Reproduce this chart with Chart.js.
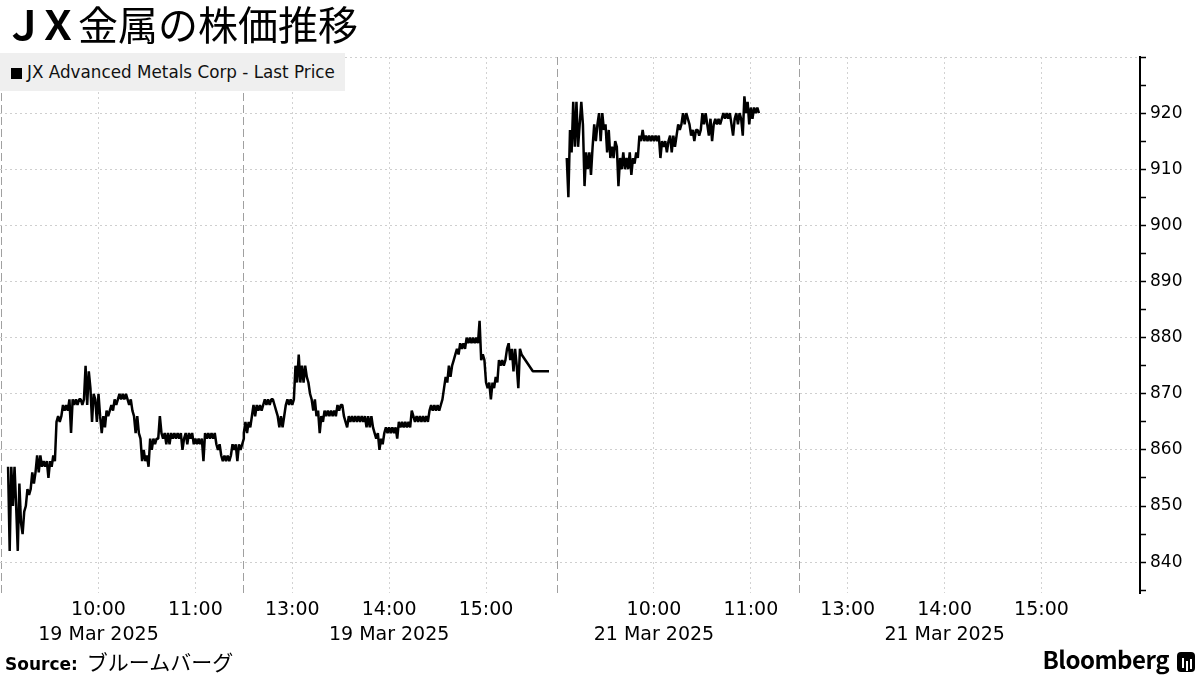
<!DOCTYPE html>
<html>
<head>
<meta charset="utf-8">
<script src="https://cdn.jsdelivr.net/npm/chart.js@4.4.1/dist/chart.umd.min.js"></script>
<style>
  html, body { margin: 0; padding: 0; background: #fff; }
  #wrap { position: relative; width: 1200px; height: 675px; overflow: hidden; }
  #chartBox { position: absolute; left: 0; top: 0; width: 1200px; height: 675px; }
  #title { position: absolute; left: 4px; top: -1px; font-family: 'Noto Sans CJK JP', sans-serif; font-size: 40px; line-height: 48px; color: #000; white-space: nowrap; }
  #title b { font-weight: 700; letter-spacing: -6px; margin-right: 6px; }
  #legend { position: absolute; left: 0; top: 53px; width: 345px; height: 38px; background: #efefef; font-family: 'DejaVu Sans', sans-serif; font-size: 16.8px; line-height: 38px; color: #111; white-space: nowrap; }
  #legend i { display: inline-block; width: 11px; height: 11px; background: #000; margin: 0 5px 0 11px; vertical-align: -1px; }
  #source { position: absolute; left: 5px; top: 647px; line-height: 28px; color: #000; white-space: nowrap; }
  #source b { font-family: 'DejaVu Sans', sans-serif; font-weight: 700; font-size: 17px; }
  #source span { font-family: 'Noto Sans CJK JP', sans-serif; font-size: 21px; margin-left: 9px; }
  #brand { position: absolute; right: 5px; top: 644px; font-family: 'Noto Sans CJK JP', sans-serif; font-weight: 700; font-size: 24px; line-height: 30px; color: #000; white-space: nowrap; letter-spacing: -0.5px; }
  #brand i { display: inline-block; width: 18px; height: 20px; background: #000; border-radius: 4px; margin-left: 8px; vertical-align: -3px; position: relative; }
  #brand i::before { content: ''; position: absolute; left: 5px; top: 6px; width: 2px; height: 10px; background: #fff; box-shadow: 4px 3px 0 #fff, 8px 1px 0 #fff; }
</style>
</head>
<body>
<div id="wrap">
  <div id="chartBox"><canvas id="grafico"></canvas></div>
  <div id="title"><b>ＪＸ</b>金属の株価推移</div>
  <div id="legend"><i></i>JX Advanced Metals Corp - Last Price</div>
  <div id="source"><b>Source:</b><span>ブルームバーグ</span></div>
  <div id="brand">Bloomberg<i></i></div>
</div>
<script>
// Fechas de cada sesión
const dias = ['19 Mar 2025', '21 Mar 2025'];

// 19 Mar: horas y precios (mañana + tarde)
const horasDia1 = [
'09:04','09:05','09:06','09:07','09:08','09:09','09:10','09:11','09:12','09:13',
'09:14','09:15','09:16','09:17','09:18','09:19','09:20','09:21','09:22','09:23',
'09:24','09:25','09:26','09:27','09:28','09:29','09:30','09:31','09:32','09:33',
'09:34','09:35','09:36','09:37','09:38','09:39','09:40','09:41','09:42','09:43',
'09:44','09:45','09:46','09:47','09:48','09:49','09:50','09:51','09:52','09:53',
'09:54','09:55','09:56','09:57','09:58','09:59','10:00','10:01','10:02','10:03',
'10:04','10:05','10:06','10:07','10:08','10:09','10:10','10:11','10:12','10:13',
'10:14','10:15','10:16','10:17','10:18','10:19','10:20','10:21','10:22','10:23',
'10:24','10:25','10:26','10:27','10:28','10:29','10:30','10:31','10:32','10:33',
'10:34','10:35','10:36','10:37','10:38','10:39','10:40','10:41','10:42','10:43',
'10:44','10:45','10:46','10:47','10:48','10:49','10:50','10:51','10:52','10:53',
'10:54','10:55','10:56','10:57','10:58','10:59','11:00','11:01','11:02','11:03',
'11:04','11:05','11:06','11:07','11:08','11:09','11:10','11:11','11:12','11:13',
'11:14','11:15','11:16','11:17','11:18','11:19','11:20','11:21','11:22','11:23',
'11:24','11:25','11:26','11:27','11:28','11:29','11:30',
'12:30','12:31','12:32','12:33','12:34','12:35','12:36','12:37','12:38','12:39',
'12:40','12:41','12:42','12:43','12:44','12:45','12:46','12:47','12:48','12:49',
'12:50','12:51','12:52','12:53','12:54','12:55','12:56','12:57','12:58','12:59',
'13:00','13:01','13:02','13:03','13:04','13:05','13:06','13:07','13:08','13:09',
'13:10','13:11','13:12','13:13','13:14','13:15','13:16','13:17','13:18','13:19',
'13:20','13:21','13:22','13:23','13:24','13:25','13:26','13:27','13:28','13:29',
'13:30','13:31','13:32','13:33','13:34','13:35','13:36','13:37','13:38','13:39',
'13:40','13:41','13:42','13:43','13:44','13:45','13:46','13:47','13:48','13:49',
'13:50','13:51','13:52','13:53','13:54','13:55','13:56','13:57','13:58','13:59',
'14:00','14:01','14:02','14:03','14:04','14:05','14:06','14:07','14:08','14:09',
'14:10','14:11','14:12','14:13','14:14','14:15','14:16','14:17','14:18','14:19',
'14:20','14:21','14:22','14:23','14:24','14:25','14:26','14:27','14:28','14:29',
'14:30','14:31','14:32','14:33','14:34','14:35','14:36','14:37','14:38','14:39',
'14:40','14:41','14:42','14:43','14:44','14:45','14:46','14:47','14:48','14:49',
'14:50','14:51','14:52','14:53','14:54','14:55','14:56','14:57','14:58','14:59',
'15:00','15:01','15:02','15:03','15:04','15:05','15:06','15:07','15:08','15:09',
'15:10','15:11','15:12','15:13','15:14','15:15','15:16','15:17','15:18','15:19',
'15:20','15:21','15:22','15:29','15:39'
];
const preciosDia1 = [
857,842,857,850,857,850,842,854,847,845,
849,850,853,852,853,856,854,856,859,856,
859,857,858,857,858,855,858,857,859,858,
865,866,865,866,868,867,868,867,869,863,
869,868,869,868,869,869,868,869,875,868,
874,871,865,870,869,865,870,866,863,866,
864,867,866,867,868,867,869,868,869,870,
869,870,869,870,869,868,869,867,866,863,
866,863,862,858,860,858,859,857,862,860,
862,861,862,862,866,863,862,863,861,863,
861,863,862,863,862,863,862,863,860,862,
863,861,863,862,863,861,862,861,862,861,
862,858,863,862,863,862,863,862,863,861,
860,861,859,858,859,858,859,858,859,861,
860,861,858,861,860,861,862,
863,865,863,865,864,866,868,866,868,867,
868,867,868,869,868,869,868,869,869,868,
867,866,864,866,864,866,868,869,868,869,
868,869,875,872,877,872,875,872,875,873,
872,870,869,867,869,866,867,863,866,865,
867,866,867,866,867,866,867,866,868,867,
868,868,866,865,864,866,865,866,865,866,
865,866,865,866,865,866,864,866,864,866,
864,863,862,863,860,862,861,863,864,863,
864,863,864,863,864,862,865,864,865,864,
865,864,865,864,867,866,865,866,865,866,
865,866,865,866,865,867,868,867,868,867,
868,867,868,869,871,873,872,875,873,875,
876,877,878,877,879,878,879,878,880,879,
880,879,880,879,880,879,883,876,877,876,
872,871,872,869,872,871,873,872,876,875,
876,875,876,878,879,876,878,874,878,875,
871,878,877,874,874
];

// 21 Mar: horas y precios (mañana)
const horasDia2 = [
'09:06','09:07','09:08','09:09','09:10','09:11','09:12','09:13','09:14','09:15',
'09:16','09:17','09:18','09:19','09:20','09:21','09:22','09:23','09:24','09:25',
'09:26','09:27','09:28','09:29','09:30','09:31','09:32','09:33','09:34','09:35',
'09:36','09:37','09:38','09:39','09:40','09:41','09:42','09:43','09:44','09:45',
'09:46','09:47','09:48','09:49','09:50','09:51','09:52','09:53','09:54','09:55',
'09:56','09:57','09:58','09:59','10:00','10:01','10:02','10:03','10:04','10:05',
'10:06','10:07','10:08','10:09','10:10','10:11','10:12','10:13','10:14','10:15',
'10:16','10:17','10:18','10:19','10:20','10:21','10:22','10:23','10:24','10:25',
'10:26','10:27','10:28','10:29','10:30','10:31','10:32','10:33','10:34','10:35',
'10:36','10:37','10:38','10:39','10:40','10:41','10:42','10:43','10:44','10:45',
'10:46','10:47','10:48','10:49','10:50','10:51','10:52','10:53','10:54','10:55',
'10:56','10:57','10:58','10:59','11:00','11:01','11:02','11:03','11:04','11:05'
];
const preciosDia2 = [
912,905,917,913,922,914,922,914,918,922,
918,907,913,910,913,909,914,918,915,918,
920,915,920,917,918,913,917,912,914,912,
915,914,907,912,910,913,910,912,910,913,
909,912,911,913,912,916,915,917,915,916,
915,916,915,916,915,916,915,916,912,915,
914,915,913,915,916,913,916,914,916,918,
917,918,920,918,920,919,918,916,917,915,
917,917,916,917,920,918,920,918,916,919,
915,918,919,918,919,918,919,920,919,920,
919,920,918,916,919,920,918,920,919,916,
923,920,922,918,921,919,921,920,921,920
];

// Etiquetas del eje X
const horasEje = ['10:00', '11:00', '13:00', '14:00', '15:00'];
const cortesSesion = ['09:00', '11:30'];
const horasConFecha = ['10:00', '14:00'];

const MINUTOS_DIA = 344; // ancho de cada día en el eje (minutos de negociación)

function posicion(dia, hora) {
    const [h, m] = hora.split(':').map(Number);
    let min = (h - 9) * 60 + m;
    if (min >= 210) min -= 60; // se quita la pausa de 11:30 a 12:30
    return dia * MINUTOS_DIA + min;
}

function puntos(dia, horas, precios) {
    return horas.map((h, i) => ({ x: posicion(dia, h), y: precios[i] }));
}

// Lista de ticks del eje X
const ticksX = [];
dias.forEach((fecha, d) => {
    cortesSesion.forEach(h => ticksX.push({ value: posicion(d, h), tipo: 'corte', label: '' }));
    horasEje.forEach(h => ticksX.push({
        value: posicion(d, h),
        tipo: 'hora',
        label: horasConFecha.includes(h) ? [h, fecha] : h
    }));
});
ticksX.sort((a, b) => a.value - b.value);
const infoTick = v => ticksX.find(t => t.value === v);

const fuenteEje = "'DejaVu Sans', sans-serif";
const ctx = document.getElementById('grafico');

const estiloLinea = {
    borderColor: '#000',
    borderWidth: 2.5,
    borderJoinStyle: 'bevel',
    pointRadius: 0,
    tension: 0
};

new Chart(ctx, {
    type: 'line',
    data: {
        datasets: [{
            label: 'JX Advanced Metals Corp - Last Price',
            data: puntos(0, horasDia1, preciosDia1),
            ...estiloLinea
        }, {
            label: 'JX Advanced Metals Corp - Last Price (21 Mar)',
            data: puntos(1, horasDia2, preciosDia2),
            ...estiloLinea
        }]
    },
    options: {
        responsive: true,
        maintainAspectRatio: false,
        animation: false,
        layout: { padding: { top: 57, left: 0, right: 0, bottom: 0 } },
        plugins: {
            legend: { display: false },
            tooltip: { enabled: false }
        },
        scales: {
            x: {
                type: 'linear',
                min: -1,
                max: 705,
                afterBuildTicks: (scale) => {
                    scale.ticks = ticksX.map(t => ({ value: t.value }));
                },
                afterFit: (scale) => { scale.height = 82; },
                ticks: {
                    autoSkip: false,
                    maxRotation: 0,
                    padding: 0,
                    color: '#000',
                    font: { family: fuenteEje, size: 19, lineHeight: '25px' },
                    callback: (v) => {
                        const t = infoTick(v);
                        return t ? t.label : '';
                    }
                },
                grid: {
                    drawTicks: true,
                    tickLength: 5,
                    tickColor: 'rgba(0,0,0,0)',
                    lineWidth: 1,
                    color: (c) => {
                        const t = c.tick && infoTick(c.tick.value);
                        return t && t.tipo === 'corte' ? '#a0a0a0' : '#d2d2d2';
                    }
                },
                border: {
                    display: false,
                    dash: (c) => {
                        const t = c.tick && infoTick(c.tick.value);
                        return t && t.tipo === 'corte' ? [8, 4] : [2, 3];
                    }
                }
            },
            y: {
                position: 'right',
                min: 834.5,
                max: 930,
                afterFit: (scale) => { scale.width = 60; },
                ticks: {
                    stepSize: 5,
                    includeBounds: false,
                    autoSkip: false,
                    padding: 4,
                    color: '#000',
                    font: { family: "'DejaVu Sans', sans-serif", size: 17 },
                    callback: (v) => (v % 10 === 0 && v < 930) ? v : ''
                },
                grid: {
                    lineWidth: 1,
                    color: (c) => (c.tick && c.tick.value % 10 === 0) ? '#cfcfcf' : 'rgba(0,0,0,0)',
                    tickColor: '#000',
                    tickLength: 6,
                    tickWidth: 1.5
                },
                border: {
                    display: true,
                    color: '#000',
                    width: 2,
                    dash: [2, 3]
                }
            }
        }
    }
});
</script>
</body>
</html>
